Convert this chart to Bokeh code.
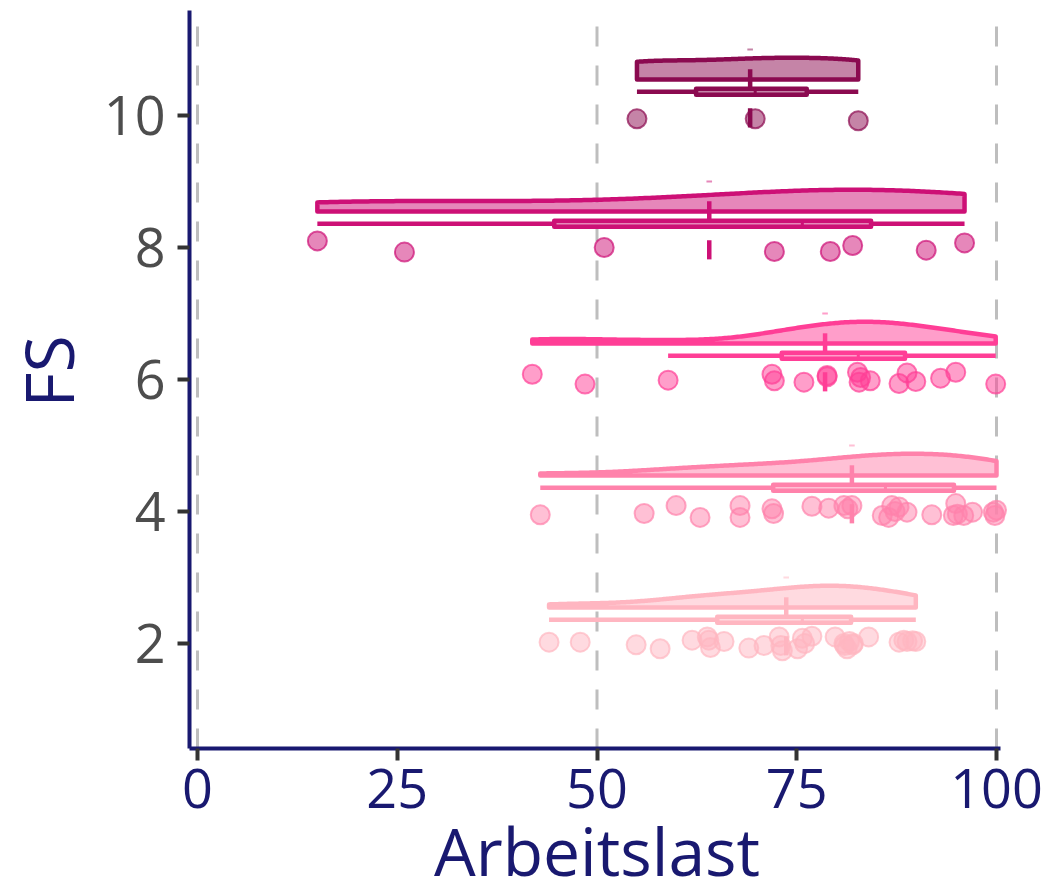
import numpy as np
from math import pi
from bokeh.plotting import figure
from bokeh.models import FixedTicker, Range1d
from bokeh.core.properties import value
from bokeh.embed import file_html
from bokeh.resources import INLINE

# ---------------- data ----------------
fs_levels = [2, 4, 6, 8, 10]
colors = ["#FFB6C1", "#FF82AB", "#FF3E96", "#CD1076", "#8B0A50"]

fs2 = [44.0, 47.9, 54.9, 57.9, 61.9, 63.8, 64.0, 64.2, 65.9, 69.0, 70.9, 72.8, 73.0, 73.2,
       75.1, 75.7, 76.0, 76.9, 79.8, 80.9, 81.0, 81.3, 81.6, 82.0, 82.1, 84.0, 87.8, 88.4,
       88.8, 89.5, 89.9]
fs2_jit = [0.02, 0.02, -0.02, -0.08, 0.05, 0.10, 0.05, -0.06, 0.03, -0.07, -0.03, 0.10, -0.03,
           -0.11, -0.08, 0.08, 0.0, 0.11, 0.10, 0.0, -0.03, -0.08, 0.03, -0.02, 0.0, 0.10, 0.02,
           0.05, 0.03, 0.04, 0.03]

fs4 = [42.9, 55.9, 59.9, 62.9, 67.9, 67.9, 71.9, 72.1, 76.9, 79.0, 80.9, 81.4, 81.9, 85.7,
       86.5, 86.9, 87.3, 87.8, 88.8, 91.9, 94.6, 94.9, 95.1, 95.9, 97.0, 99.6, 99.8, 100.0]
fs4_jit = [-0.05, -0.03, 0.09, -0.09, 0.09, -0.09, 0.04, -0.03, 0.08, 0.05, 0.09, 0.04, 0.09,
           -0.06, -0.09, 0.09, 0.0, 0.07, -0.01, -0.05, -0.06, 0.12, -0.04, -0.06, -0.01, -0.01,
           -0.06, 0.02]

fs6 = [41.9, 48.5, 58.9, 71.9, 72.2, 75.9, 78.8, 78.8, 82.6, 82.8, 83.0, 84.2, 87.8, 88.8,
       89.9, 93.0, 94.9, 99.9]
fs6_jit = [0.08, -0.07, -0.01, 0.08, -0.02, -0.04, 0.06, 0.04, 0.11, -0.04, 0.03, -0.02, -0.06,
           0.10, -0.03, 0.02, 0.11, -0.07]

fs8 = [15.0, 25.9, 50.9, 72.2, 79.2, 82.0, 91.2, 96.0]
fs8_jit = [0.10, -0.07, 0.0, -0.06, -0.06, 0.03, -0.04, 0.07]

fs10 = [55.0, 69.8, 82.7]
fs10_jit = [-0.05, -0.05, -0.08]

groups = [fs2, fs4, fs6, fs8, fs10]
jitters = [fs2_jit, fs4_jit, fs6_jit, fs8_jit, fs10_jit]

x_ticks = [0, 25, 50, 75, 100]
y_ticks = [2, 4, 6, 8, 10]
grid_x = [0, 50, 100]
x_title = "Arbeitslast"
y_title = "FS"

NAVY = "#191970"
FONT = "Open Sans"


# ---------------- helpers ----------------
def nrd0(x):
    x = np.asarray(x, dtype=float)
    sd = np.std(x, ddof=1)
    q75, q25 = np.percentile(x, [75, 25])
    lo = min(sd, (q75 - q25) / 1.34)
    if lo <= 0:
        lo = sd if sd > 0 else 1.0
    return 0.9 * lo * len(x) ** (-0.2)


def kde(x, grid):
    x = np.asarray(x, dtype=float)
    bw = nrd0(x)
    d = np.exp(-0.5 * ((grid[:, None] - x[None, :]) / bw) ** 2).sum(axis=1)
    return d / d.max()


def lighten(hex_color, a=0.5):
    h = hex_color.lstrip("#")
    r, g, b = (int(h[i:i + 2], 16) for i in (0, 2, 4))
    mix = lambda c: int(round(c * a + 255 * (1 - a)))
    return "#%02X%02X%02X" % (mix(r), mix(g), mix(b))


# ---------------- layout: the frame covers the whole canvas ----------------
W, H = 1048, 894
PX_X, X0_PX = 7.99, 197.0      # px per x unit, pixel of x = 0
PX_Y, Y10_PX = 66.0, 115.0     # px per y unit, pixel of y = 10
to_x = lambda px: (px - X0_PX) / PX_X
to_y = lambda py: 10 - (py - Y10_PX) / PX_Y

# panel bounds (where the axis lines lie)
XL, XR = -1.0, 100.5
Y0, Y1 = 0.409, 11.59

p = figure(width=W, height=H,
           x_range=Range1d(to_x(0), to_x(W)), y_range=Range1d(to_y(H), to_y(0)),
           output_backend="svg", toolbar_location=None,
           min_border_left=0, min_border_right=0,
           min_border_top=0, min_border_bottom=0)
p.outline_line_color = None
p.background_fill_color = "white"
p.border_fill_color = "white"

p.xaxis.ticker = FixedTicker(ticks=x_ticks)
p.yaxis.ticker = FixedTicker(ticks=y_ticks)
for ax in (p.xaxis[0], p.yaxis[0]):
    ax.axis_line_color = NAVY
    ax.axis_line_width = 4
    ax.major_tick_line_color = "#333333"
    ax.major_tick_line_width = 4
    ax.major_tick_out = 12
    ax.major_tick_in = 0
    ax.minor_tick_line_color = None
    ax.major_label_text_font = FONT
    ax.major_label_text_font_size = "54px"
p.xaxis.major_label_text_color = NAVY
p.yaxis.major_label_text_color = "#4D4D4D"
p.xaxis.major_label_standoff = 8
p.yaxis.major_label_standoff = 12
p.xaxis.fixed_location = Y0
p.yaxis.fixed_location = XL
p.xaxis.bounds = (XL, XR)
p.yaxis.bounds = (Y0, Y1)

p.xgrid.grid_line_color = None
p.ygrid.grid_line_color = None
p.segment(x0=grid_x, y0=[Y0] * len(grid_x), x1=grid_x, y1=[Y1] * len(grid_x),
          line_color="#BEBEBE", line_width=3, line_dash="20 19", level="underlay")

LW = 4.5
for fs, vals, jit, c in zip(fs_levels, groups, jitters, colors):
    v = np.asarray(vals, dtype=float)
    light = lighten(c, 0.5)

    # half violin (density)
    base = fs + 0.545
    gx = np.linspace(v.min(), v.max(), 256)
    dens = kde(v, gx) * 0.33
    xs = np.concatenate([[v.min()], gx, [v.max()]])
    ys = np.concatenate([[base], base + dens, [base]])
    p.patch(xs, ys, fill_color=c, fill_alpha=0.5, line_color=c, line_width=LW,
            line_join="round")

    # boxplot
    q1, med, q3 = np.percentile(v, [25, 50, 75])
    iqr = q3 - q1
    lo = v[v >= q1 - 1.5 * iqr].min()
    hi = v[v <= q3 + 1.5 * iqr].max()
    yb = fs + 0.36
    p.segment(x0=[lo], y0=[yb], x1=[hi], y1=[yb], line_color=c, line_width=LW)
    p.quad(left=[q1], right=[q3], bottom=[yb - 0.045], top=[yb + 0.045],
           fill_color=light, line_color=c, line_width=LW, line_join="round")
    p.segment(x0=[med], y0=[yb - 0.045], x1=[med], y1=[yb + 0.045],
              line_color=c, line_width=3)

    # points
    p.scatter(v, fs + np.asarray(jit), size=19, fill_color=c, fill_alpha=0.5,
              line_color=c, line_alpha=0.7, line_width=2)

    # mean marks
    m = v.mean()
    p.segment(x0=[m], y0=[fs + 0.43], x1=[m], y1=[fs + 0.70], line_color=c, line_width=LW)
    p.segment(x0=[m], y0=[fs - 0.18], x1=[m], y1=[fs + 0.11], line_color=c, line_width=LW)
    p.segment(x0=[m - 0.35], y0=[fs + 1.0], x1=[m + 0.35], y1=[fs + 1.0],
              line_color=c, line_alpha=0.5, line_width=2)

# axis titles
p.text(x=[(x_ticks[0] + x_ticks[-1]) / 2], y=[to_y(849)], text=[x_title],
       text_font=value(FONT), text_font_size="66px", text_color=NAVY,
       text_align="center", text_baseline="middle")
p.text(x=[to_x(47)], y=[to_y(371)], text=[y_title], angle=pi / 2,
       text_font=value(FONT), text_font_size="68px", text_color=NAVY,
       text_align="center", text_baseline="middle")

open("out.html", "w").write(file_html(p, INLINE))
